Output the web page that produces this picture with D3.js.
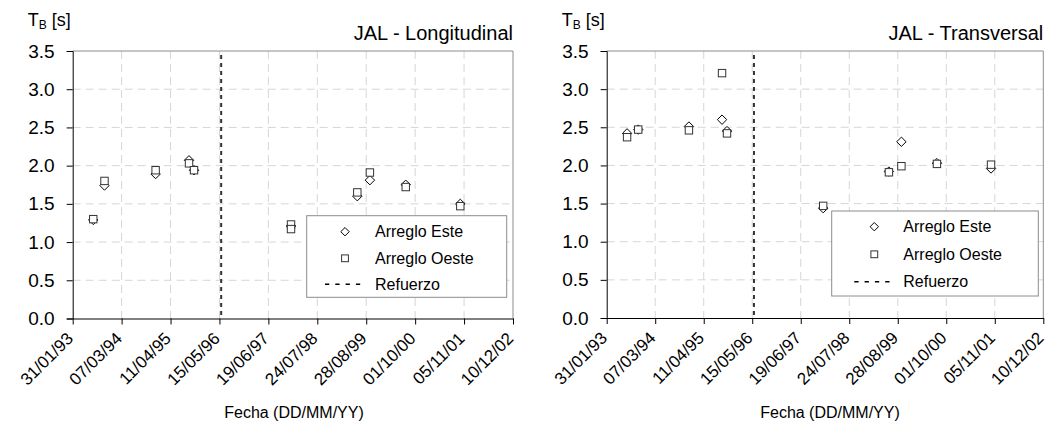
<!DOCTYPE html>
<html><head><meta charset="utf-8">
<script src="https://cdn.jsdelivr.net/npm/d3@7"></script>
<style>body{margin:0;background:#fff} svg{font-family:"Liberation Sans",Arial,sans-serif;display:block}</style>
</head><body><svg id="c" width="1048" height="427"></svg>
<script>
// ---- data ----
const tickLabels = ["31/01/93","07/03/94","11/04/95","15/05/96","19/06/97","24/07/98","28/08/99","01/10/00","05/11/01","10/12/02"];
const yTicks = [0.0, 0.5, 1.0, 1.5, 2.0, 2.5, 3.0, 3.5];
const refuerzoFecha = "1996-05-29";

const fechasEste = ["1993-07-18","1993-10-18","1994-12-10","1995-09-09","1995-10-20","1997-12-21","1999-06-16","1999-09-27","2000-07-16","2001-10-05"];
const fechasOesteLong = ["1993-07-18","1993-10-18","1994-12-10","1995-09-09","1995-10-20","1997-12-21","1997-12-21","1999-06-16","1999-09-27","2000-07-16","2001-10-05"];
const fechasOesteTrans = ["1993-07-18","1993-10-18","1994-12-10","1995-09-09","1995-10-20","1997-12-21","1999-06-16","1999-09-27","2000-07-16","2001-10-05"];

const longEste  = [1.29, 1.74, 1.89, 2.07, 1.94, 1.21, 1.60, 1.81, 1.75, 1.50];
const longOeste = [1.30, 1.80, 1.94, 2.03, 1.94, 1.23, 1.17, 1.65, 1.91, 1.72, 1.47];
const transEste  = [2.42, 2.47, 2.51, 2.60, 2.45, 1.44, 1.92, 2.31, 2.03, 1.96];
const transOeste = [2.37, 2.47, 2.46, 3.21, 2.42, 1.47, 1.91, 1.99, 2.02, 2.01];

const titles = ["JAL - Longitudinal", "JAL - Transversal"];
const legendLabels = ["Arreglo Este", "Arreglo Oeste", "Refuerzo"];
const xTitle = "Fecha (DD/MM/YY)";

const parseISO = d3.timeParse("%Y-%m-%d");
const parseTick = d3.timeParse("%d/%m/%y");
const fmtTick = d3.timeFormat("%d/%m/%y");
const tickDates = tickLabels.map(parseTick);

const svg = d3.select("#c");
const FONT = "Liberation Sans, Arial, sans-serif";

const panels = [
  {x0: 72.7, x1: 513, yTop: 51, yBot: 318.5, title: titles[0],
   este: fechasEste.map((d,i)=>({date: parseISO(d), v: longEste[i]})),
   oeste: fechasOesteLong.map((d,i)=>({date: parseISO(d), v: longOeste[i]})),
   legend: {x: 306.7, y: 215.7, w: 200, h: 81.6, mx: 345, tx: 375, rows: [231.7, 258.3, 284.3]},
   xTitleX: 294},
  {x0: 606.7, x1: 1043.3, yTop: 51, yBot: 318, title: titles[1],
   este: fechasEste.map((d,i)=>({date: parseISO(d), v: transEste[i]})),
   oeste: fechasOesteTrans.map((d,i)=>({date: parseISO(d), v: transOeste[i]})),
   legend: {x: 831.7, y: 211, w: 206.6, h: 85, mx: 874.3, tx: 903.3, rows: [226.7, 254.3, 281.7]},
   xTitleX: 830}
];

const diamond = s => `M0,${-s}L${s},0L0,${s}L${-s},0Z`;

panels.forEach(p => {
  const x = d3.scaleTime().domain([tickDates[0], tickDates[tickDates.length-1]]).range([p.x0, p.x1]);
  const y = d3.scaleLinear().domain([0, 3.5]).range([p.yBot, p.yTop]);
  const g = svg.append("g");

  // gridlines
  g.selectAll(".hg").data(yTicks.slice(1, -1)).join("line")
    .attr("x1", p.x0).attr("x2", p.x1).attr("y1", d=>y(d)).attr("y2", d=>y(d))
    .attr("stroke", "#d6d6d6").attr("stroke-dasharray", "8,5");
  g.selectAll(".vg").data(tickDates.slice(1, -1)).join("line")
    .attr("x1", d=>x(d)).attr("x2", d=>x(d)).attr("y1", p.yTop).attr("y2", p.yBot)
    .attr("stroke", "#d6d6d6").attr("stroke-dasharray", "8,5");

  // frame (top/right gray)
  g.append("line").attr("x1", p.x0).attr("x2", p.x1).attr("y1", p.yTop).attr("y2", p.yTop).attr("stroke", "#8c8c8c");
  g.append("line").attr("x1", p.x1).attr("x2", p.x1).attr("y1", p.yTop).attr("y2", p.yBot).attr("stroke", "#8c8c8c");

  // refuerzo line
  const rx = x(parseISO(refuerzoFecha));
  g.append("line").attr("x1", rx).attr("x2", rx).attr("y1", p.yTop + 4).attr("y2", p.yBot)
    .attr("stroke", "#333").attr("stroke-width", 2).attr("stroke-dasharray", "4,4");

  // axes
  const yAxis = d3.axisLeft(y).tickValues(yTicks).tickFormat(d3.format(".1f")).tickSize(6).tickPadding(12);
  const ya = g.append("g").attr("transform", `translate(${p.x0},0)`).call(yAxis);
  ya.select(".domain").attr("stroke", "#000");
  ya.selectAll("text").attr("font-size", 19).attr("fill", "#000").attr("font-family", FONT);

  const xAxis = d3.axisBottom(x).tickValues(tickDates).tickFormat(fmtTick).tickSize(6).tickSizeOuter(0);
  const xa = g.append("g").attr("transform", `translate(0,${p.yBot})`).call(xAxis);
  xa.select(".domain").attr("stroke", "#000");
  xa.selectAll("text").attr("font-size", 17).attr("fill", "#000")
    .attr("font-family", FONT)
    .attr("text-anchor", "end").attr("dy", null).attr("y", null)
    .attr("transform", "translate(1,21) rotate(-45)");

  // points
  g.selectAll(".este").data(p.este).join("path")
    .attr("transform", d=>`translate(${x(d.date)},${y(d.v)})`)
    .attr("d", diamond(4.7)).attr("fill", "#fff").attr("stroke", "#000").attr("stroke-width", 1);
  g.selectAll(".oeste").data(p.oeste).join("rect")
    .attr("x", d=>x(d.date)-3.7).attr("y", d=>y(d.v)-3.7).attr("width", 7.4).attr("height", 7.4)
    .attr("fill", "#fff").attr("stroke", "#333").attr("stroke-width", 1);

  // legend
  const L = p.legend;
  g.append("rect").attr("x", L.x).attr("y", L.y).attr("width", L.w).attr("height", L.h)
    .attr("fill", "#fff").attr("stroke", "#8c8c8c");
  g.append("path").attr("transform", `translate(${L.mx},${L.rows[0]})`).attr("d", diamond(4.2))
    .attr("fill", "#fff").attr("stroke", "#000");
  g.append("rect").attr("x", L.mx-3.4).attr("y", L.rows[1]-3.4).attr("width", 6.8).attr("height", 6.8)
    .attr("fill", "#fff").attr("stroke", "#333");
  g.append("line").attr("x1", L.mx-20).attr("x2", L.mx+17).attr("y1", L.rows[2]).attr("y2", L.rows[2])
    .attr("stroke", "#000").attr("stroke-width", 1.5).attr("stroke-dasharray", "4.3,6");
  legendLabels.forEach((t,i) => {
    g.append("text").attr("x", L.tx).attr("y", L.rows[i]).attr("dy", "0.35em")
      .attr("font-size", 16).text(t);
  });

  // title
  g.append("text").attr("x", p.x1).attr("y", 40).attr("text-anchor", "end").attr("font-size", 20).text(p.title);
  // y label
  const yl = g.append("text").attr("x", p.x0 - 45).attr("y", 26).attr("font-size", 18);
  yl.append("tspan").text("T");
  yl.append("tspan").attr("font-size", 12).attr("dy", 3).text("B");
  yl.append("tspan").attr("dy", -3).text(" [s]");
  // x title
  g.append("text").attr("x", p.xTitleX).attr("y", 418).attr("text-anchor", "middle").attr("font-size", 16).text(xTitle);
});
</script></body></html>
